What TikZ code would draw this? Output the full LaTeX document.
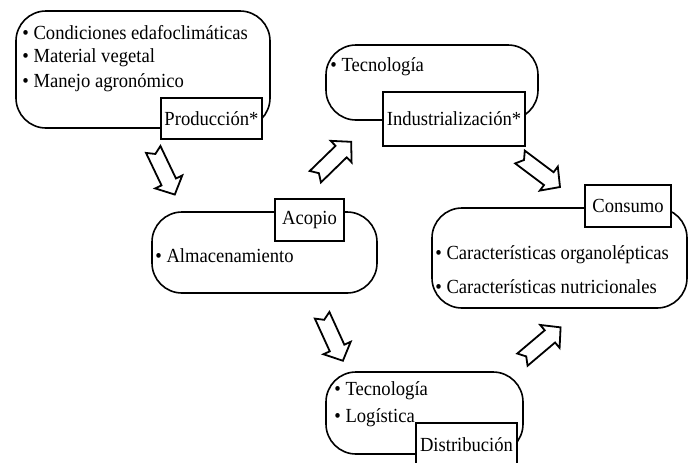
\documentclass[tikz,border=0pt]{standalone}
\usepackage{fontspec}
\setmainfont[FakeStretch=0.93]{Liberation Serif}
\usetikzlibrary{positioning}

\tikzset{
  stage/.style={draw, line width=0.8pt, rounded corners=15pt, inner sep=0pt},
  tag/.style={draw, line width=0.8pt, fill=white, inner sep=0pt},
  item/.style={anchor=west, inner sep=0pt},
  flowarrow/.pic={\draw[line width=0.9pt, fill=white, line join=miter]
    (-25,-8) -- (11,-8) -- (11,-15) -- (25,0) -- (11,15) -- (11,8) -- (-25,8) -- (-20,0) -- cycle;}
}

\begin{document}
\begin{tikzpicture}[x=0.5pt, y=-0.5pt, font=\fontsize{10}{12}\selectfont]

        \useasboundingbox (0,0) rectangle (691,462);

        % rounded stage boxes
        \node[stage, minimum width=127pt, minimum height=58.5pt] (prod) at (143,69.5) {};
        \node[stage, minimum width=112.5pt, minimum height=40.5pt] (aco) at (264.5,252.5) {};
        \node[stage, minimum width=106pt, minimum height=37.5pt] (ind) at (432,82.5) {};
        \node[stage, minimum width=127.5pt, minimum height=50pt] (con) at (559.5,258) {};
        \node[stage, minimum width=98.5pt, minimum height=41pt] (dis) at (424.5,413) {};

        % stage names
        \node[tag, minimum width=50.5pt, minimum height=20.5pt] (prodtag) at (211.5,118.5) {Producción*};
        \node[tag, minimum width=34.5pt, minimum height=21pt] (acotag) at (309.5,220) {Acopio};
        \node[tag, minimum width=71pt, minimum height=27pt] (indtag) at (454,119) {Industrialización*};
        \node[tag, minimum width=43pt, minimum height=21pt] (contag) at (628,206) {Consumo};
        \node[tag, minimum width=50.5pt, minimum height=22pt] (distag) at (466.5,445) {Distribución};

        % items
        \node[item] (prod1) at (22,33) {• Condiciones edafoclimáticas};
        \node[item] (prod2) at (22,58) {• Material vegetal};
        \node[item] (prod3) at (22,83) {• Manejo agronómico};
        \node[item] (aco1) at (155,256) {• Almacenamiento};
        \node[item] (ind1) at (330,67) {• Tecnología};
        \node[item] (con1) at (435,255) {• Características organolépticas};
        \node[item] (con2) at (435,287) {• Características nutricionales};
        \node[item] (dis1) at (334,391) {• Tecnología};
        \node[item] (dis2) at (334,418) {• Logística};

        % arrows between stages
        \coordinate (a1s) at (153,149);   \coordinate (a1e) at (175,195);
        \coordinate (a2s) at (314.5,177.5); \coordinate (a2e) at (352,141);
        \coordinate (a3s) at (322,315);   \coordinate (a3e) at (343,361);
        \coordinate (a4s) at (522,360);   \coordinate (a4e) at (561,327);
        \coordinate (a5s) at (520,157);   \coordinate (a5e) at (560,187);

        \path (a1s) -- (a1e) pic[midway, sloped] {flowarrow};
        \path (a2s) -- (a2e) pic[midway, sloped] {flowarrow};
        \path (a3s) -- (a3e) pic[midway, sloped] {flowarrow};
        \path (a4s) -- (a4e) pic[midway, sloped] {flowarrow};
        \path (a5s) -- (a5e) pic[midway, sloped] {flowarrow};

\end{tikzpicture}
\end{document}
